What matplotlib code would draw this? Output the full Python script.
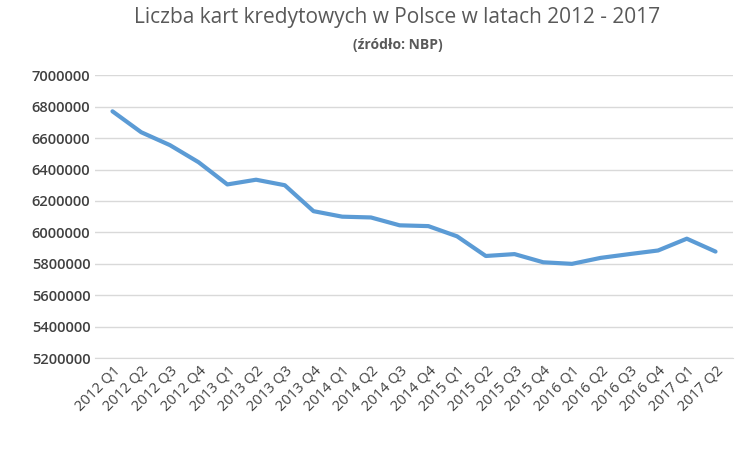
import matplotlib
matplotlib.use("Agg")
import matplotlib.pyplot as plt

plt.rcParams['font.family'] = ['Open Sans', 'DejaVu Sans']

quarters = ['2012 Q1', '2012 Q2', '2012 Q3', '2012 Q4', '2013 Q1', '2013 Q2',
            '2013 Q3', '2013 Q4', '2014 Q1', '2014 Q2', '2014 Q3', '2014 Q4',
            '2015 Q1', '2015 Q2', '2015 Q3', '2015 Q4', '2016 Q1', '2016 Q2',
            '2016 Q3', '2016 Q4', '2017 Q1', '2017 Q2']
cards = [6770000, 6637000, 6555000, 6446000, 6305000, 6335000,
         6300000, 6135000, 6100000, 6095000, 6045000, 6040000,
         5975000, 5850000, 5862000, 5810000, 5800000, 5838000,
         5862000, 5885000, 5960000, 5878000]
y_ticks = list(range(5200000, 7000001, 200000))

fig = plt.figure(figsize=(7.5, 4.5), dpi=100)
ax = fig.add_axes([0.127, 0.204, 0.85, 0.629])
ax.plot(range(len(quarters)), cards, color='#5b9bd5', linewidth=3, solid_capstyle='round')

ax.set_ylim(5200000, 7000000)
ax.set_xlim(-0.6, len(quarters) - 0.4)
ax.set_yticks(y_ticks)
ax.set_yticklabels([str(v) for v in y_ticks], fontsize=10.5, color='#404040',
                   fontweight='semibold')
ax.set_xticks(range(len(quarters)))
ax.set_xticklabels(quarters, rotation=45, ha='right', rotation_mode='anchor',
                   fontsize=10.5, color='#404040')
ax.tick_params(length=0)
ax.grid(axis='y', color='#d9d9d9', linewidth=1)
ax.set_axisbelow(True)
for s in ['top', 'right', 'left']:
    ax.spines[s].set_visible(False)
ax.spines['bottom'].set_color('#d9d9d9')

fig.text(0.53, 0.96, 'Liczba kart kredytowych w Polsce w latach 2012 - 2017',
         ha='center', va='center', fontsize=15, color='#595959')
fig.text(0.53, 0.9, '(źródło: NBP)', ha='center', va='center',
         fontsize=10, color='#595959', fontweight='bold')

fig.savefig('out.png', dpi=100)
